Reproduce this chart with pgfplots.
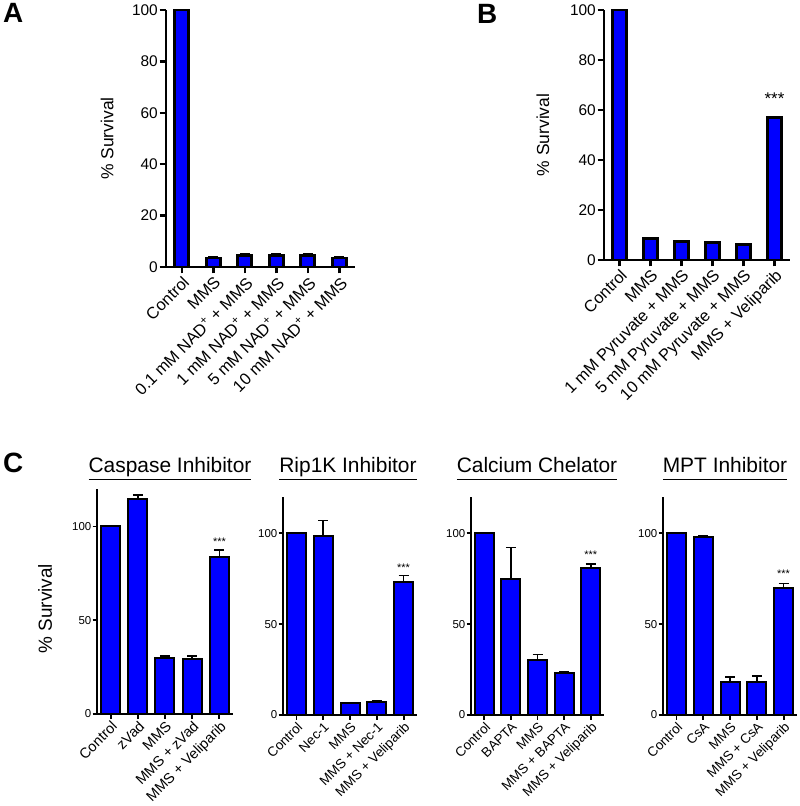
\documentclass[border=0pt]{standalone}
\usepackage{pgfplots}
\pgfplotsset{compat=1.18}
\usepackage{fontspec}
\setmainfont{Liberation Sans}
\newcommand{\fs}[1]{\fontsize{#1}{#1}\selectfont}
\newcommand{\ul}[1]{\underline{#1\vphantom{p}}}

\pgfplotsset{
  survbase/.style={
    scale only axis,
    axis x line*=bottom, axis y line*=left,
    tick align=outside,
    ybar, ymin=0,
    /pgf/number format/assume math mode=true,
    xticklabel style={rotate=45, anchor=north east, inner sep=1bp},
    ylabel={\% Survival},
  },
  survAB/.style={
    survbase,
    axis line style={line width=2.8bp, black},
    tick style={line width=2.5bp, black},
    major tick length=6.5bp,
    xmin=-0.5, xmax=5.5, xtick={0,...,5},
    ymax=100, ytick={0,20,...,100},
    yticklabel style={font=\fs{15.5}, inner sep=1.5bp},
    xticklabel style={font=\fs{16.5}},
    ylabel style={font=\fs{17.5}},
  },
  survC/.style={
    survbase,
    axis line style={line width=2.2bp, black},
    tick style={line width=1.8bp, black},
    major tick length=4.5bp,
    xmin=-0.5, xmax=4.5, xtick={0,...,4},
    ymax=120, ytick={0,50,100},
    yticklabel style={font=\fs{11.5}, inner sep=1bp},
    xticklabel style={font=\fs{13.5}},
    ylabel style={font=\fs{19}},
    bar width=19bp,
  },
  barB/.style={fill=blue, draw=black, line width=2.6bp},
  barAB/.style={fill=blue, draw=black, line width=2.6bp,
    error bars/.cd, y dir=plus, y explicit,
    error bar style={line width=1.8bp, black},
    error mark options={rotate=90, mark size=5bp, line width=1.8bp, black}},
  barC/.style={fill=blue, draw=black, line width=2bp,
    error bars/.cd, y dir=plus, y explicit,
    error bar style={line width=1.6bp, black},
    error mark options={rotate=90, mark size=5bp, line width=1.6bp, black}},
}

\begin{document}
\begin{tikzpicture}
\path[use as bounding box] (0,0) rectangle (800bp,806bp);

% ---------------- Panel A
\begin{axis}[survAB, at={(166bp,539bp)}, anchor=south west,
  width=189bp, height=257bp, bar width=14bp,
  xticklabels={Control, MMS, 0.1 mM NAD\textsuperscript{+} + MMS, 1 mM NAD\textsuperscript{+} + MMS, 5 mM NAD\textsuperscript{+} + MMS, 10 mM NAD\textsuperscript{+} + MMS},
  ylabel style={at={(rel axis cs:-0.312,0.5)}, anchor=center}]
\addplot[barAB] table[x=x, y=y, y error=e] {
x y e
0 100 0
1 3.5 0.6
2 4.5 0.7
3 4.4 0.6
4 4.4 0.6
5 3.5 0.6
};
\end{axis}

% ---------------- Panel B
\begin{axis}[survAB, at={(604bp,546bp)}, anchor=south west,
  width=186bp, height=250bp, bar width=14.5bp,
  xticklabels={Control, MMS, 1 mM Pyruvate + MMS, 5 mM Pyruvate + MMS, 10 mM Pyruvate + MMS, MMS + Veliparib},
  ylabel style={at={(rel axis cs:-0.328,0.5)}, anchor=center}]
\addplot[barB] table[x=x, y=y] {
x y
0 100
1 8.5
2 7.5
3 6.9
4 6.3
5 57.1
};
\node[anchor=base, font=\fs{17}] at (axis cs:5,62.3) {***};
\end{axis}

% ---------------- Panel C1
\begin{axis}[survC, at={(97bp,92bp)}, anchor=south west,
  width=136bp, height=225bp,
  xticklabel style={font=\fs{14.5}},
  xticklabels={Control, zVad, MMS, MMS + zVad, MMS + Veliparib},
  ylabel style={at={(rel axis cs:-0.382,0.468)}, anchor=center}]
\addplot[barC] table[x=x, y=y, y error=e] {
x y e
0 100 0
1 114.8 1.9
2 29.9 1.1
3 29.2 1.8
4 83.6 3.9
};
\node[anchor=base, font=\fs{11}] at (axis cs:4,89.6) {***};
\end{axis}

% ---------------- Panel C2
\begin{axis}[survC, at={(283bp,91bp)}, anchor=south west,
  width=134bp, height=218bp, ylabel={},
  xticklabels={Control, Nec-1, MMS, MMS + Nec-1, MMS + Veliparib}]
\addplot[barC] table[x=x, y=y, y error=e] {
x y e
0 100 0
1 98.5 8.5
2 6.6 0.3
3 7.3 0.6
4 73.2 3.6
};
\node[anchor=base, font=\fs{11}] at (axis cs:4,78.8) {***};
\end{axis}

% ---------------- Panel C3
\begin{axis}[survC, at={(471bp,91bp)}, anchor=south west,
  width=133bp, height=218bp, ylabel={},
  xticklabels={Control, BAPTA, MMS, MMS + BAPTA, MMS + Veliparib}]
\addplot[barC] table[x=x, y=y, y error=e] {
x y e
0 100 0
1 74.6 17.6
2 30.3 2.9
3 23.2 0.7
4 81.0 2.2
};
\node[anchor=base, font=\fs{11}] at (axis cs:4,86.3) {***};
\end{axis}

% ---------------- Panel C4
\begin{axis}[survC, at={(663bp,91bp)}, anchor=south west,
  width=134bp, height=218bp, ylabel={},
  xticklabels={Control, CsA, MMS, MMS + CsA, MMS + Veliparib}]
\addplot[barC] table[x=x, y=y, y error=e] {
x y e
0 100 0
1 98.2 0.3
2 18.2 2.8
3 18.2 3.2
4 69.9 2.4
};
\node[anchor=base, font=\fs{11}] at (axis cs:4,75.8) {***};
\end{axis}

% ---------------- Panel letters and titles
\node[anchor=base west, font=\bfseries\fs{28}, inner sep=0pt] at (3bp,783bp) {A};
\node[anchor=base west, font=\bfseries\fs{28}, inner sep=0pt] at (477bp,782bp) {B};
\node[anchor=base west, font=\bfseries\fs{28}, inner sep=0pt] at (3bp,333bp) {C};
\node[anchor=base, font=\fs{21}, inner sep=0pt] at (170bp,333bp) {\ul{Caspase Inhibitor}};
\node[anchor=base, font=\fs{21}, inner sep=0pt] at (348bp,333bp) {\ul{Rip1K Inhibitor}};
\node[anchor=base, font=\fs{21}, inner sep=0pt] at (537bp,333bp) {\ul{Calcium Chelator}};
\node[anchor=base, font=\fs{21}, inner sep=0pt] at (725bp,333bp) {\ul{MPT Inhibitor}};
\end{tikzpicture}
\end{document}
